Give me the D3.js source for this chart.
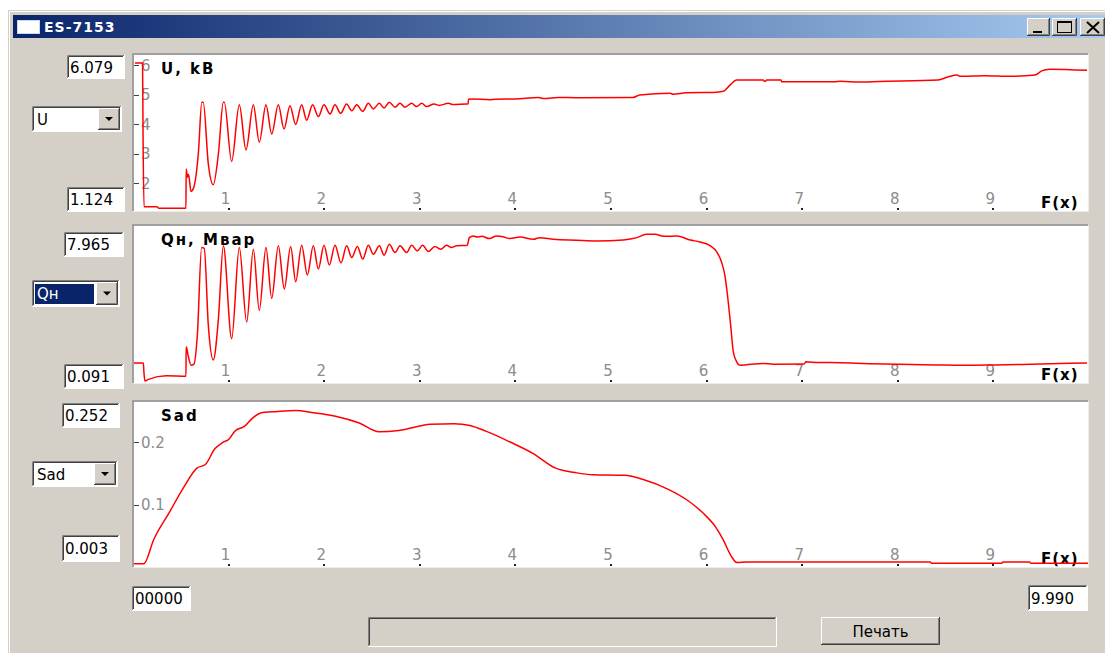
<!DOCTYPE html>
<html>
<head>
<meta charset="utf-8">
<title>ES-7153</title>
<style>
  html, body { margin: 0; padding: 0; background: #fff; overflow: hidden; }
  svg { display: block; }
</style>
</head>
<body>
<svg id="win" width="1105" height="653"></svg>
<script src="https://cdn.jsdelivr.net/npm/d3@7"></script>
<script>
// ES-7153 oscillogram window, three stacked traces over F(x)
(function() {
  'use strict';

  // --- Data ---
  var xDomain = [0, 9.99];
  var xTicks = [1, 2, 3, 4, 5, 6, 7, 8, 9];
  var uTicks = [2, 3, 4, 5, 6];
  var qTicks = [];
  var sTicks = [0.1, 0.2];

  var uRange = [1.124, 6.079];
  var qRange = [0.091, 7.965];
  var sRange = [0.003, 0.252];

  var titles = ['U, kB', 'Q\u043d, \u041c\u0432\u0430\u0440', 'Sad'];
  var comboNames = ['U', 'Q\u043d', 'Sad'];

  // U, kV  [F(x), value]
  var uPoints = [
    [0.02, 6.08], [0.10, 6.08], [0.105, 3.7], [0.115, 1.20], [0.25, 1.20], [0.27, 1.15],
    [0.554, 1.15], [0.556, 2.48], [0.57, 2.2], [0.58, 2.3], [0.607, 1.72], [0.635, 1.85],
    [0.683, 2.99], [0.72, 4.75], [0.735, 4.75], [0.788, 2.65], [0.84, 1.95], [0.893, 2.99],
    [0.945, 4.75], [0.955, 4.75], [1.032, 2.74], [1.112, 4.66], [1.182, 3.13], [1.259, 4.66],
    [1.321, 3.39], [1.391, 4.66], [1.451, 3.67], [1.52, 4.66], [1.58, 3.84], [1.642, 4.63],
    [1.702, 3.99], [1.764, 4.66], [1.817, 4.14], [1.879, 4.66], [1.939, 4.26], [1.998, 4.66],
    [2.061, 4.35], [2.113, 4.66], [2.172, 4.37], [2.235, 4.69], [2.288, 4.46], [2.34, 4.66],
    [2.403, 4.44], [2.462, 4.71], [2.514, 4.52], [2.577, 4.71], [2.626, 4.55], [2.681, 4.75],
    [2.741, 4.58], [2.793, 4.71], [2.845, 4.58], [2.915, 4.71], [2.967, 4.60], [3.02, 4.71],
    [3.072, 4.60], [3.15, 4.69], [3.2, 4.64], [3.3, 4.71], [3.35, 4.67], [3.49, 4.69],
    [3.505, 4.69], [3.51, 4.85], [3.56, 4.86], [3.73, 4.83], [3.79, 4.85], [4.0, 4.86],
    [4.24, 4.91], [4.3, 4.87], [4.45, 4.91], [4.64, 4.90], [5.23, 4.91], [5.30, 4.99],
    [5.617, 5.05], [5.65, 5.02], [5.79, 5.07], [6.07, 5.08], [6.175, 5.12], [6.245, 5.33],
    [6.315, 5.50], [6.59, 5.50], [6.61, 5.45], [6.63, 5.50], [6.78, 5.50], [6.785, 5.44],
    [7.33, 5.44], [7.4, 5.46], [7.6, 5.43], [7.8, 5.45], [8.42, 5.50], [8.53, 5.61],
    [8.62, 5.67], [8.65, 5.63], [8.9, 5.65], [9.19, 5.63], [9.435, 5.67], [9.505, 5.81],
    [9.59, 5.87], [9.98, 5.83]
  ];

  // Qн, Mvar
  var qPoints = [
    [0.0, 1.06], [0.108, 1.06], [0.115, 0.5], [0.126, 0.09], [0.16, 0.18], [0.35, 0.37],
    [0.554, 0.35], [0.556, 1.92], [0.58, 1.38], [0.607, 0.94], [0.638, 1.0], [0.673, 2.54],
    [0.718, 7.24], [0.745, 7.2], [0.788, 3.07], [0.84, 1.21], [0.893, 3.4], [0.945, 7.33],
    [1.032, 2.36], [1.112, 7.24], [1.189, 3.25], [1.259, 7.15], [1.321, 3.87], [1.391, 7.24],
    [1.451, 4.52], [1.52, 7.33], [1.583, 5.02], [1.649, 7.30], [1.702, 5.41], [1.764, 7.36],
    [1.824, 5.77], [1.886, 7.33], [1.939, 6.09], [1.998, 7.36], [2.054, 6.30], [2.113, 7.36],
    [2.176, 6.41], [2.235, 7.33], [2.288, 6.70], [2.347, 7.30], [2.403, 6.62], [2.462, 7.36],
    [2.514, 6.88], [2.577, 7.33], [2.626, 6.83], [2.681, 7.42], [2.741, 6.97], [2.793, 7.33],
    [2.863, 6.97], [2.915, 7.36], [2.974, 7.06], [3.03, 7.36], [3.089, 7.03], [3.159, 7.30],
    [3.22, 7.15], [3.281, 7.36], [3.33, 7.24], [3.386, 7.33], [3.497, 7.36], [3.518, 7.77],
    [3.56, 7.86], [3.6, 7.80], [3.65, 7.84], [3.73, 7.72], [3.8, 7.86], [3.87, 7.82],
    [3.94, 7.72], [4.05, 7.80], [4.19, 7.68], [4.25, 7.77], [4.40, 7.68], [4.64, 7.63],
    [4.85, 7.59], [5.13, 7.65], [5.27, 7.77], [5.37, 7.95], [5.46, 7.95], [5.55, 7.84],
    [5.69, 7.86], [5.83, 7.64], [5.93, 7.54], [6.04, 7.33], [6.106, 7.01], [6.158, 6.44],
    [6.192, 5.73], [6.227, 4.31], [6.252, 3.07], [6.28, 1.65], [6.315, 1.12], [6.35, 0.94],
    [6.593, 1.03], [6.7, 0.99], [7.02, 1.00], [7.04, 1.12], [7.1, 1.10], [7.3, 1.08],
    [7.7, 1.02], [8.0, 0.99], [8.4, 0.95], [8.7, 0.93], [9.0, 0.95], [9.3, 0.98], [9.98, 1.06]
  ];

  // Sad
  var sPoints = [
    [0.0, 0.005], [0.113, 0.005], [0.217, 0.044], [0.382, 0.088], [0.527, 0.127], [0.672, 0.159],
    [0.754, 0.164], [0.858, 0.190], [0.94, 0.200], [1.003, 0.205], [1.065, 0.218], [1.169, 0.226],
    [1.251, 0.239], [1.355, 0.248], [1.45, 0.249], [1.541, 0.250], [1.705, 0.251], [1.871, 0.248],
    [2.119, 0.242], [2.367, 0.231], [2.574, 0.217], [2.781, 0.219], [3.112, 0.229], [3.36, 0.230],
    [3.525, 0.227], [3.691, 0.218], [3.939, 0.201], [4.187, 0.182], [4.415, 0.159], [4.643, 0.151],
    [4.808, 0.148], [5.139, 0.147], [5.345, 0.140], [5.594, 0.125], [5.8, 0.107], [5.966, 0.086],
    [6.09, 0.065], [6.172, 0.044], [6.255, 0.018], [6.317, 0.007], [6.42, 0.008], [8.34, 0.008],
    [8.35, 0.006], [9.09, 0.006], [9.1, 0.008], [9.38, 0.008], [9.39, 0.006], [9.99, 0.006]
  ];

  // --- Window chrome ---
  var GRAY = '#d4d0c8';
  var FONT = '"DejaVu Sans", Verdana, sans-serif';
  var svg = d3.select('#win');

  svg.append('rect').attr('x', 8).attr('y', 10).attr('width', 1097).attr('height', 643).style('fill', GRAY);
  svg.append('path').attr('d', 'M9.5,653V11.5H1105').style('fill', 'none').style('stroke', '#fff');

  var defs = svg.append('defs');
  var grad = defs.append('linearGradient').attr('id', 'titleGrad');
  grad.append('stop').attr('offset', '0%').attr('stop-color', '#0a246a');
  grad.append('stop').attr('offset', '100%').attr('stop-color', '#a6caf0');

  svg.append('rect').attr('x', 13).attr('y', 15).attr('width', 1092).attr('height', 23).style('fill', 'url(#titleGrad)');
  svg.append('rect').attr('x', 17.5).attr('y', 20.5).attr('width', 22).attr('height', 13)
    .style('fill', '#fff').style('stroke', '#c8d8f0');
  svg.append('text').text('ES-7153').attr('x', 44).attr('y', 32)
    .style('font-family', FONT).style('font-size', '14px').style('font-weight', '700')
    .style('letter-spacing', '1px').style('fill', '#fff');

  // Classic 3D edges
  function raised(x, y, w, h) {
    svg.append('rect').attr('x', x).attr('y', y).attr('width', w).attr('height', h).style('fill', GRAY);
    svg.append('path').attr('d', 'M' + (x + 0.5) + ',' + (y + h - 1) + 'V' + (y + 0.5) + 'H' + (x + w - 1))
      .style('fill', 'none').style('stroke', '#fff');
    svg.append('path').attr('d', 'M' + x + ',' + (y + h - 0.5) + 'H' + (x + w - 0.5) + 'V' + y)
      .style('fill', 'none').style('stroke', '#404040');
    svg.append('path').attr('d', 'M' + (x + 1) + ',' + (y + h - 1.5) + 'H' + (x + w - 1.5) + 'V' + (y + 1))
      .style('fill', 'none').style('stroke', '#808080');
  }

  function sunken(x, y, w, h, fill) {
    svg.append('rect').attr('x', x).attr('y', y).attr('width', w).attr('height', h).style('fill', fill);
    svg.append('path').attr('d', 'M' + (x + 0.5) + ',' + (y + h - 1) + 'V' + (y + 0.5) + 'H' + (x + w - 1))
      .style('fill', 'none').style('stroke', '#808080');
    svg.append('path').attr('d', 'M' + (x + 1.5) + ',' + (y + h - 2) + 'V' + (y + 1.5) + 'H' + (x + w - 2))
      .style('fill', 'none').style('stroke', '#404040');
    svg.append('path').attr('d', 'M' + x + ',' + (y + h - 0.5) + 'H' + (x + w - 0.5) + 'V' + y)
      .style('fill', 'none').style('stroke', '#fff');
  }

  function field(x, y, w, h, label) {
    sunken(x, y, w, h, '#fff');
    svg.append('text').text(label).attr('x', x + 3).attr('y', y + h / 2 + 5.5)
      .style('font-family', FONT).style('font-size', '15px').style('fill', '#000');
  }

  // Title bar buttons
  raised(1027, 18, 23, 18);
  svg.append('rect').attr('x', 1033).attr('y', 31).attr('width', 9).attr('height', 2).style('fill', '#000');
  raised(1052, 18, 25, 18);
  svg.append('rect').attr('x', 1057.5).attr('y', 21.5).attr('width', 14).attr('height', 11)
    .style('fill', 'none').style('stroke', '#000');
  svg.append('rect').attr('x', 1057).attr('y', 21).attr('width', 15).attr('height', 2).style('fill', '#000');
  raised(1080, 18, 25, 18);
  svg.append('path').attr('d', 'M1087,22L1099,33M1099,22L1087,33')
    .style('stroke', '#000').style('stroke-width', 2);

  // --- Panels ---
  var x = d3.scaleLinear().domain(xDomain).range([133, 1088]);
  var lineColor = '#ff0000';
  var fmt = d3.format('.3f');

  var panels = [
    { top: 54, bottom: 211, range: uRange, ticks: uTicks, points: uPoints, title: titles[0], combo: comboNames[0],
      maxBox: [67, 55, 58, 24], comboBox: [32, 106, 90, 26], minBox: [67, 187, 58, 25], selected: false },
    { top: 225, bottom: 383, range: qRange, ticks: qTicks, points: qPoints, title: titles[1], combo: comboNames[1],
      maxBox: [64, 232, 60, 25], comboBox: [32, 280, 88, 27], minBox: [64, 364, 60, 25], selected: true },
    { top: 401, bottom: 567, range: sRange, ticks: sTicks, points: sPoints, title: titles[2], combo: comboNames[2],
      maxBox: [62, 403, 58, 25], comboBox: [32, 461, 86, 26], minBox: [62, 535, 58, 27], selected: false }
  ];

  panels.forEach(function(p, i) {
    var y = d3.scaleLinear().domain(p.range).range([p.bottom - 2, p.top + 9]);
    var w = x.range()[1] - x.range()[0];
    var h = p.bottom - p.top;

    // Side controls
    field(p.maxBox[0], p.maxBox[1], p.maxBox[2], p.maxBox[3], fmt(p.range[1]));
    field(p.minBox[0], p.minBox[1], p.minBox[2], p.minBox[3], fmt(p.range[0]));

    var cb = p.comboBox;
    sunken(cb[0], cb[1], cb[2], cb[3], '#fff');
    if (p.selected) {
      svg.append('rect').attr('x', cb[0] + 3).attr('y', cb[1] + 4).attr('width', cb[2] - 29).attr('height', cb[3] - 7)
        .style('fill', '#0a246a');
    }
    svg.append('text').text(p.combo).attr('x', cb[0] + 5).attr('y', cb[1] + cb[3] / 2 + 5.5)
      .style('font-family', FONT).style('font-size', '15px')
      .style('fill', p.selected ? '#fff' : '#000');
    var bx = cb[0] + cb[2] - 24, by = cb[1] + 2, bw = 22, bh = cb[3] - 4;
    raised(bx, by, bw, bh);
    var cx = bx + bw / 2, cy = by + bh / 2;
    svg.append('path').attr('d', 'M' + (cx - 4) + ',' + (cy - 2) + 'H' + (cx + 4) + 'L' + cx + ',' + (cy + 2) + 'Z')
      .style('fill', '#000');

    // Plot frame
    svg.append('rect').attr('x', 133).attr('y', p.top).attr('width', w).attr('height', h).style('fill', '#fff');
    svg.append('path').attr('d', 'M133,' + p.bottom + 'V' + p.top + 'H1088')
      .style('fill', 'none').style('stroke', '#a0a0a0').style('stroke-width', 2);
    svg.append('path').attr('d', 'M133,' + (p.bottom + 0.5) + 'H1088.5V' + p.top)
      .style('fill', 'none').style('stroke', '#ececec');

    var g = svg.append('g');

    // X ticks: dot on the bottom edge, grey label just above
    g.selectAll('.xt').data(xTicks).join('rect')
      .attr('x', function(d) { return Math.round(x(d)) - 1; })
      .attr('y', p.bottom - 3).attr('width', 2).attr('height', 2).style('fill', '#202020');
    g.selectAll('.xl').data(xTicks).join('text')
      .text(function(d) { return d; })
      .attr('x', function(d) { return x(d) - 3; })
      .attr('y', p.bottom - 7)
      .attr('text-anchor', 'middle')
      .style('font-family', FONT).style('font-size', '15px').style('fill', '#8c8c8c');

    // Y ticks: short dash on the left edge, grey label beside it
    g.selectAll('.yt').data(p.ticks).join('line')
      .attr('x1', 134).attr('x2', 139)
      .attr('y1', function(d) { return Math.round(y(d)) + 0.5; })
      .attr('y2', function(d) { return Math.round(y(d)) + 0.5; })
      .style('stroke', '#404040');
    g.selectAll('.yl').data(p.ticks).join('text')
      .text(function(d) { return d; })
      .attr('x', 141).attr('y', function(d) { return y(d) + 5.5; })
      .style('font-family', FONT).style('font-size', '15px').style('fill', '#8c8c8c');

    // Panel title and axis name
    g.append('text').text(p.title).attr('x', 161).attr('y', p.top + 20)
      .style('font-family', FONT).style('font-size', '15px').style('font-weight', '700')
      .style('letter-spacing', '2px').style('fill', '#000');
    g.append('text').text('F(x)').attr('x', 1041).attr('y', p.bottom - 3)
      .style('font-family', FONT).style('font-size', '15px').style('font-weight', '700')
      .style('letter-spacing', '1px').style('fill', '#000');

    // Trace
    var clipId = 'clip' + i;
    defs.append('clipPath').attr('id', clipId).append('rect')
      .attr('x', 134).attr('y', p.top + 1).attr('width', w - 1).attr('height', h - 1);
    var line = d3.line()
      .x(function(d) { return x(d[0]); })
      .y(function(d) { return y(d[1]); })
      .curve(d3.curveMonotoneX);
    svg.append('path').datum(p.points)
      .attr('d', line)
      .attr('clip-path', 'url(#' + clipId + ')')
      .style('fill', 'none').style('stroke', lineColor).style('stroke-width', 1.5)
      .style('stroke-linejoin', 'round');
  });

  // --- Bottom row ---
  field(132, 586, 59, 25, '00000');
  field(1028, 585, 60, 26, fmt(xDomain[1]));
  sunken(368, 617, 409, 30, GRAY);
  raised(821, 617, 119, 28);
  svg.append('text').text('\u041f\u0435\u0447\u0430\u0442\u044c').attr('x', 880.5).attr('y', 636.5)
    .attr('text-anchor', 'middle')
    .style('font-family', FONT).style('font-size', '15px').style('fill', '#000');
})();
</script>
</body>
</html>
